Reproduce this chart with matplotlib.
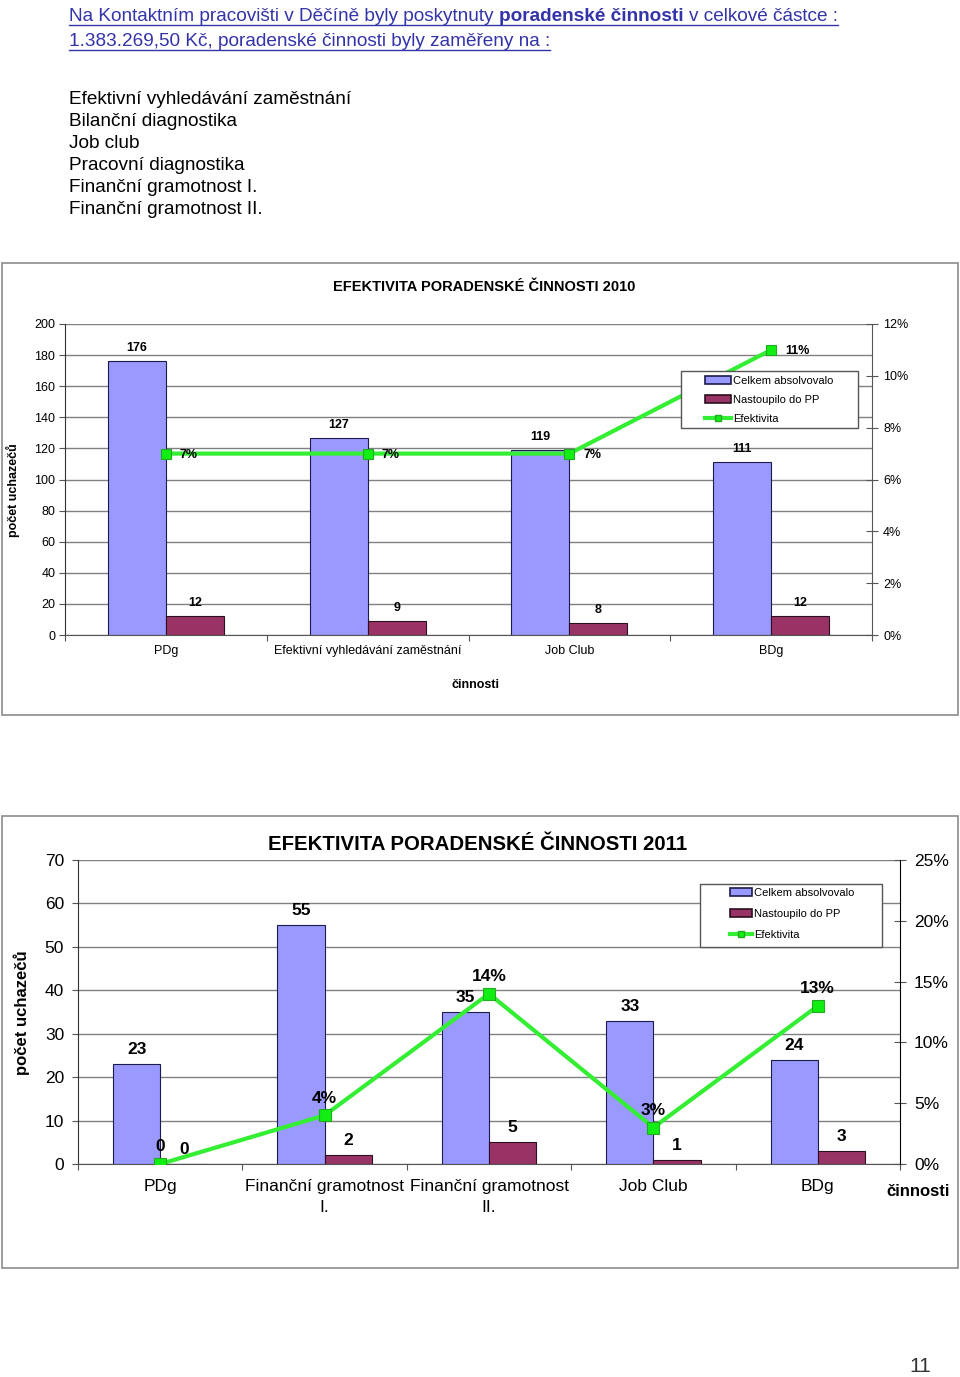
import matplotlib
matplotlib.use('Agg')
import matplotlib.pyplot as plt
from matplotlib.patches import Rectangle
from matplotlib.lines import Line2D
import numpy as np

plt.rcParams['font.family'] = ['Liberation Sans', 'DejaVu Sans']

# data
cats_2010 = ['PDg', 'Efektivní vyhledávání zaměstnání', 'Job Club', 'BDg']
celkem_2010 = [176, 127, 119, 111]
nastoupilo_2010 = [12, 9, 8, 12]
efekt_2010 = [0.07, 0.07, 0.07, 0.11]

cats_2011 = ['PDg', 'Finanční gramotnost\nI.', 'Finanční gramotnost\nII.', 'Job Club', 'BDg']
celkem_2011 = [23, 55, 35, 33, 24]
nastoupilo_2011 = [0, 2, 5, 1, 3]
efekt_2011 = [0.0, 0.04, 0.14, 0.03, 0.13]

aktivity = ['Efektivní vyhledávání zaměstnání', 'Bilanční diagnostika', 'Job club',
            'Pracovní diagnostika', 'Finanční gramotnost I.', 'Finanční gramotnost II.']

BLUE = '#9999ff'
RED = '#993366'
GREEN = '#33ee33'
HEAD = '#3333aa'

W, H = 960, 1377
fig = plt.figure(figsize=(9.6, 13.77), dpi=100)
fig.canvas.draw()
rend = fig.canvas.get_renderer()


def rect(x0, y0, x1, y1):
    return [x0 / W, 1 - y1 / H, (x1 - x0) / W, (y1 - y0) / H]


def text_runs(x, y, runs, size, color, family):
    # draws pieces of text one after another, returns the drawn artists and right edge
    arts = []
    probe = fig.text(0, 0, 'x x', fontsize=size, family=family)
    probe2 = fig.text(0, 0, 'xx', fontsize=size, family=family)
    sp = probe.get_window_extent(rend).width - probe2.get_window_extent(rend).width
    probe.remove()
    probe2.remove()
    cx = x
    for i, (s, w) in enumerate(runs):
        if i > 0:
            cx += sp
        t = fig.text(cx / W, 1 - y / H, s, fontsize=size, color=color, fontweight=w,
                     family=family, va='baseline', ha='left')
        arts.append(t)
        cx += t.get_window_extent(rend).width
    return arts, cx


def fitted_line(x, y, runs, width, color, family, underline=True):
    arts, x1 = text_runs(x, y, runs, 10, color, family)
    size = 10 * width / (x1 - x)
    for a in arts:
        a.remove()
    arts, x1 = text_runs(x, y, runs, size, color, family)
    if underline:
        fig.add_artist(Line2D([x / W, x1 / W], [1 - (y + 4) / H] * 2, color=color, lw=1,
                              transform=fig.transFigure))


narrow = ['Liberation Sans Narrow', 'Liberation Sans', 'DejaVu Sans']
fitted_line(69, 21, [('Na Kontaktním pracovišti v Děčíně byly poskytnuty', 'normal'),
                     ('poradenské činnosti', 'bold'),
                     ('v celkové částce :', 'normal')], 772, HEAD, narrow)
fitted_line(69, 46, [('1.383.269,50 Kč, poradenské činnosti byly zaměřeny na :', 'normal')],
            482, HEAD, narrow)

for i, s in enumerate(aktivity):
    fig.text(69 / W, 1 - (104 + 22 * i) / H, s, fontsize=13.7, color='black', va='baseline')

# frames
for y0, y1 in [(263, 715), (816, 1268)]:
    fig.add_artist(Rectangle((2 / W, 1 - y1 / H), 956 / W, (y1 - y0) / H, fill=False,
                             edgecolor='#8c8c8c', lw=1.2, transform=fig.transFigure))


def chart(box, cats, celkem, nastoupilo, efekt, ymax, ystep, pmax, pstep, fs, pct_side,
          xpad, lsp, lpad, rpad):
    ax = fig.add_axes(rect(*box))
    n = len(cats)
    x = np.arange(n)
    w = 0.2875
    ax.bar(x - w / 2, celkem, w, color=BLUE, edgecolor='#1c1c4c', lw=0.8, zorder=2)
    ax.bar(x + w / 2, nastoupilo, w, color=RED, edgecolor='#2a1020', lw=0.8, zorder=2)
    ax.set_xlim(-0.5, n - 0.5)
    ax.set_ylim(0, ymax)
    ax.set_yticks(np.arange(0, ymax + 1, ystep))
    ax.yaxis.grid(True, color='#808080', lw=1)
    ax.set_axisbelow(True)
    ax.set_xticks(np.arange(n + 1) - 0.5)
    ax.set_xticklabels([])
    ax.set_xticks(x, minor=True)
    ax.set_xticklabels(cats, minor=True, fontsize=fs, linespacing=lsp)
    ax.tick_params(axis='x', which='minor', length=0, pad=xpad)
    ax.tick_params(axis='x', which='major', length=4, color='#555555')
    ax.tick_params(axis='y', labelsize=fs, length=4, color='#555555', pad=lpad)
    for s in ['top', 'right']:
        ax.spines[s].set_visible(False)
    ax.spines['left'].set_color('#333333')
    ax.spines['bottom'].set_color('#555555')
    for xi, v in zip(x, celkem):
        ax.annotate(str(v), (xi - w / 2, v), xytext=(0, 5), textcoords='offset points',
                    ha='center', va='bottom', fontsize=fs, fontweight='bold')
    for xi, v in zip(x, nastoupilo):
        ax.annotate(str(v), (xi + w / 2, v), xytext=(0, 5), textcoords='offset points',
                    ha='center', va='bottom', fontsize=fs, fontweight='bold')

    ax2 = ax.twinx()
    ax2.set_ylim(0, pmax)
    ticks = np.arange(0, pmax + 1e-9, pstep)
    ax2.set_yticks(ticks)
    ax2.set_yticklabels(['%d%%' % round(t * 100) for t in ticks])
    ax2.tick_params(axis='y', labelsize=fs, direction='inout', length=8, color='#555555', pad=rpad)
    for s in ['top', 'left', 'bottom']:
        ax2.spines[s].set_visible(False)
    ax2.plot(x, efekt, color=GREEN, lw=3, marker='s', markersize=8 if fs > 10 else 7,
             markerfacecolor='#11ee11', markeredgecolor='#22aa22', markeredgewidth=0.8,
             zorder=3)
    for xi, v in zip(x, efekt):
        lab = '%d%%' % round(v * 100) if v > 0 else '0'
        if pct_side:
            ax2.annotate(lab, (xi, v), xytext=(10, -1), textcoords='offset points',
                         ha='left', va='center', fontsize=fs, fontweight='bold')
        else:
            ax2.annotate(lab, (xi, v), xytext=(0, 7), textcoords='offset points',
                         ha='center', va='bottom', fontsize=fs, fontweight='bold')
    return ax, ax2


def legend_box(ax2, frame, anchor, hlen, lspace):
    x0, y0, x1, y1 = frame
    ax2.add_patch(Rectangle((x0 / W, 1 - y1 / H), (x1 - x0) / W, (y1 - y0) / H,
                            transform=fig.transFigure, facecolor='white',
                            edgecolor='#555555', lw=1, zorder=9, clip_on=False))
    hs = [Rectangle((0, 0), 1, 1, facecolor=BLUE, edgecolor='#1c1c4c', lw=1.2),
          Rectangle((0, 0), 1, 1, facecolor=RED, edgecolor='#2a1020', lw=1.2),
          Line2D([], [], color=GREEN, lw=3, marker='s', markersize=5,
                 markerfacecolor='#11ee11', markeredgecolor='#22aa22')]
    names = ['Celkem absolvovalo', 'Nastoupilo do PP', 'Efektivita']
    leg = ax2.legend(hs, names, loc='upper left', bbox_to_anchor=(anchor[0] / W, 1 - anchor[1] / H),
                     bbox_transform=fig.transFigure, fontsize=8, frameon=False,
                     borderaxespad=0, borderpad=0, handlelength=hlen, handleheight=0.7,
                     labelspacing=lspace, handletextpad=0.2)
    leg.set_zorder(10)


# 2010
ax, ax2 = chart((65, 324, 872, 635), cats_2010, celkem_2010, nastoupilo_2010, efekt_2010,
                200, 20, 0.12, 0.02, 9, True, 7, 1.2, 3, 4)
ax2.spines['right'].set_color('#555555')
fig.text(13 / W, 1 - 490 / H, 'počet uchazečů', fontsize=9, fontweight='bold',
         rotation=90, ha='center', va='center')
fig.text(476 / W, 1 - 685 / H, 'činnosti', fontsize=9, fontweight='bold',
         ha='center', va='center')
fig.text(484 / W, 1 - 287 / H, 'EFEKTIVITA PORADENSKÉ ČINNOSTI 2010', fontsize=10.5,
         fontweight='bold', ha='center', va='center')
legend_box(ax2, (681, 371, 858, 428), (705, 376), 2.3, 0.8)

# 2011
ax, ax2 = chart((78, 860, 900, 1164), cats_2011, celkem_2011, nastoupilo_2011, efekt_2011,
                70, 10, 0.25, 0.05, 12.5, False, 11, 1.5, 6, 6)
fig.text(22 / W, 1 - 1013 / H, 'počet uchazečů', fontsize=12, fontweight='bold',
         rotation=90, ha='center', va='center')
fig.text(918 / W, 1 - 1192 / H, 'činnosti', fontsize=12, fontweight='bold',
         ha='center', va='center')
fig.text(478 / W, 1 - 844 / H, 'EFEKTIVITA PORADENSKÉ ČINNOSTI 2011', fontsize=14.7,
         fontweight='bold', ha='center', va='center')
legend_box(ax2, (700, 884, 882, 947), (730, 888), 2.0, 1.0)

fig.text(920 / W, 1 - 1366 / H, '11', fontsize=15, color='#333333', ha='center', va='center')

fig.savefig('out.png', dpi=100)
